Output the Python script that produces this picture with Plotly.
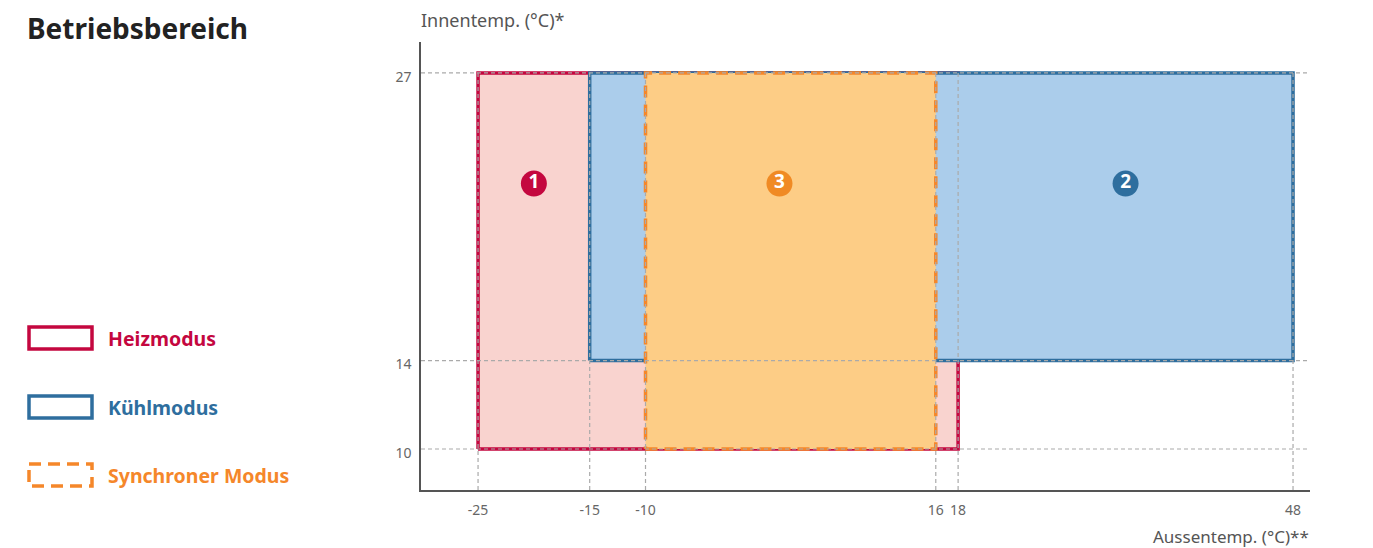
import plotly.graph_objects as go

# Data
modes = ["Heizmodus", "Kühlmodus", "Synchroner Modus"]
x_min = [-25, -15, -10]
x_max = [18, 48, 16]
y_min = [10, 14, 10]
y_max = [27, 27, 27]
badge_text = ["1", "2", "3"]
badge_x = [-20, 33, 2]
badge_y = [22, 22, 22]

x_ticks = [-25, -15, -10, 16, 18, 48]
y_ticks = [10, 14, 27]

# Styles
line_colors = ["#C4073F", "#2E6E9E", "#F5872A"]
fill_colors = ["#F9D3CF", "#ABCDEB", "#FDCD86"]
badge_colors = ["#C4073F", "#2E6E9E", "#F08A24"]
dashes = ["solid", "solid", "12px,7px"]

FONT = "Noto Sans"
OFF = 8  # page body margin
W, H = 1373 - OFF, 548 - OFF
L, T = 421 - OFF, 42 - OFF
R = W - (1310 - OFF)
B = H - (490 - OFF)
pw, ph = W - L - R, H - T - B

X_RANGE = [-30.11, 49.52]
Y_RANGE = [8.147, 28.40]

fig = go.Figure()

for i, name in enumerate(modes):
    fig.add_trace(go.Scatter(
        x=[x_min[i], x_max[i], x_max[i], x_min[i], x_min[i]],
        y=[y_min[i], y_min[i], y_max[i], y_max[i], y_min[i]],
        mode="lines",
        fill="toself",
        fillcolor=fill_colors[i],
        line=dict(color=line_colors[i], width=3.5, dash=dashes[i]),
        name=name,
        hoverinfo="skip",
        showlegend=False,
    ))

# Number badges
fig.add_trace(go.Scatter(
    x=badge_x, y=badge_y,
    mode="markers+text",
    marker=dict(size=26, color=badge_colors, line=dict(width=0)),
    text=badge_text,
    textposition="middle center",
    textfont=dict(family=FONT, size=19, color="white", weight="bold"),
    hoverinfo="skip",
    showlegend=False,
))

shapes = []
# gridlines drawn above the boxes
for yv in y_ticks:
    shapes.append(dict(type="line", xref="paper", yref="y", x0=0, x1=1, y0=yv, y1=yv,
                       line=dict(color="#AAAAAA", width=1.2, dash="4px,3px"), layer="above"))
for xv in x_ticks:
    shapes.append(dict(type="line", xref="x", yref="paper", x0=xv, x1=xv, y0=0,
                       y1=(max(y_ticks) - Y_RANGE[0]) / (Y_RANGE[1] - Y_RANGE[0]),
                       line=dict(color="#AAAAAA", width=1.2, dash="4px,3px"), layer="above"))


# custom legend on the left (positions given in window pixels)
def px2paper_x(p):
    return (p - OFF - L) / pw


def px2paper_y(p):
    return (H - B - (p - OFF)) / ph


legend_rows = [338, 407, 475]
annotations = []
for i, name in enumerate(modes):
    yc = legend_rows[i]
    shapes.append(dict(type="rect", xref="paper", yref="paper",
                       x0=px2paper_x(29), x1=px2paper_x(92),
                       y0=px2paper_y(yc - 11), y1=px2paper_y(yc + 11),
                       line=dict(color=line_colors[i], width=3.5, dash=dashes[i]),
                       fillcolor="white"))
    annotations.append(dict(xref="paper", yref="paper", x=px2paper_x(106), y=px2paper_y(yc),
                            text="<b>" + name + "</b>", showarrow=False, xanchor="left",
                            yanchor="middle",
                            font=dict(family=FONT, size=19.5, color=line_colors[i])))

annotations.append(dict(xref="paper", yref="paper", x=px2paper_x(26), y=px2paper_y(OFF),
                        text="<b>Betriebsbereich</b>", showarrow=False, xanchor="left",
                        yanchor="top", borderpad=0,
                        font=dict(family=FONT, size=28, color="#222222")))
annotations.append(dict(xref="paper", yref="paper", x=px2paper_x(419), y=px2paper_y(20),
                        text="Innentemp. (°C)*", showarrow=False, xanchor="left",
                        yanchor="middle", font=dict(family=FONT, size=18, color="#555555")))
annotations.append(dict(xref="paper", yref="paper", x=px2paper_x(1311), y=px2paper_y(536),
                        text="Aussentemp. (°C)**", showarrow=False, xanchor="right",
                        yanchor="middle", font=dict(family=FONT, size=17, color="#555555")))

fig.update_layout(
    width=W, height=H,
    margin=dict(l=L, r=R, t=T, b=B),
    plot_bgcolor="white",
    paper_bgcolor="white",
    shapes=shapes,
    annotations=annotations,
    showlegend=False,
)

fig.update_xaxes(
    range=X_RANGE,
    tickvals=x_ticks,
    ticktext=[str(v) for v in x_ticks],
    showgrid=False, zeroline=False,
    showline=True, linecolor="#555555", linewidth=1.5,
    ticks="", ticklabelstandoff=6,
    tickfont=dict(family=FONT, size=14, color="#666666"),
)
fig.update_yaxes(
    range=Y_RANGE,
    tickvals=y_ticks,
    ticktext=[str(v) for v in y_ticks],
    showgrid=False, zeroline=False,
    showline=True, linecolor="#555555", linewidth=1.5,
    ticks="", ticklabelstandoff=5, ticklabelshift=4,
    tickfont=dict(family=FONT, size=14, color="#666666"),
)

fig.write_html("out.html")
